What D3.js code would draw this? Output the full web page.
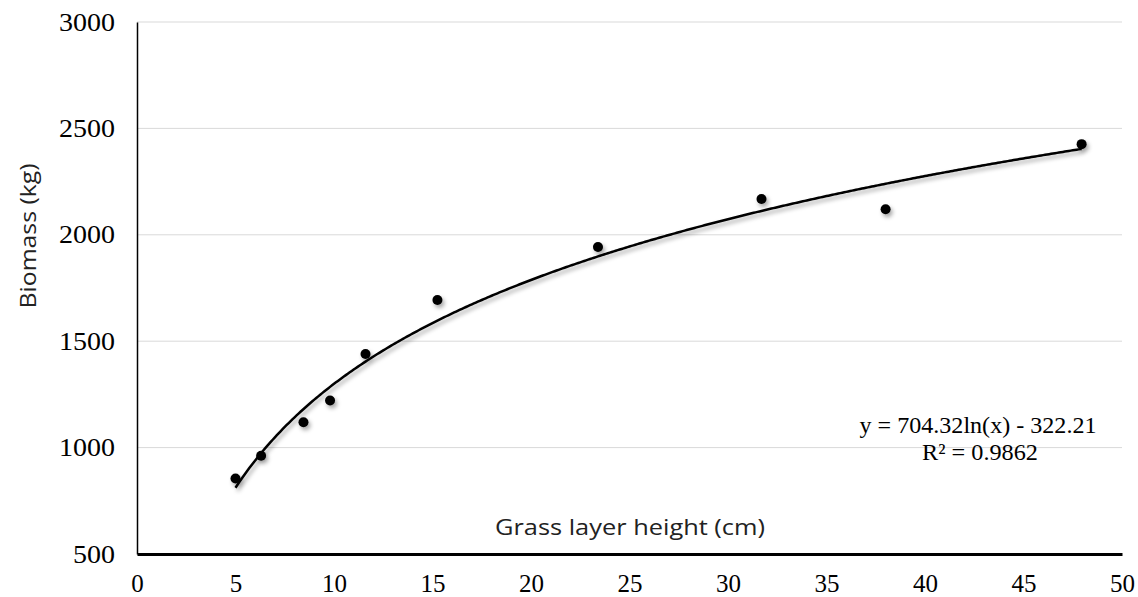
<!DOCTYPE html>
<html>
<head>
<meta charset="utf-8">
<script src="https://cdn.jsdelivr.net/npm/d3@7"></script>
<style>
  body { margin: 0; background: #fff; }
  svg { display: block; }
</style>
</head>
<body>
<svg id="chart" width="1138" height="597"></svg>
<script>
const heights = [5.0, 6.3, 8.45, 9.8, 11.6, 15.25, 23.4, 31.7, 38.0, 47.95];
const biomass = [855, 962, 1119, 1221, 1440, 1694, 1943, 2168, 2120, 2426];
const xTicks = [0, 5, 10, 15, 20, 25, 30, 35, 40, 45, 50];
const yTicks = [500, 1000, 1500, 2000, 2500, 3000];
const trendA = 704.32, trendB = -322.21;
const equationText = "y = 704.32ln(x) - 322.21";
const r2Text = "R² = 0.9862";
const xTitle = "Grass layer height (cm)";
const yTitle = "Biomass (kg)";

const svg = d3.select("#chart");
const mLeft = 137, mRight = 1122, mTop = 22, mBottom = 554;
const x = d3.scaleLinear().domain([0, 50]).range([mLeft, mRight]);
const y = d3.scaleLinear().domain([500, 3000]).range([mBottom, mTop]);
const serif = "Liberation Serif, Times New Roman, serif";

const defs = svg.append("defs");
const f = defs.append("filter").attr("id", "shadow").attr("x", "-100%").attr("y", "-100%").attr("width", "300%").attr("height", "300%");
f.append("feDropShadow").attr("dx", 2).attr("dy", 3).attr("stdDeviation", 2).attr("flood-color", "#000").attr("flood-opacity", 0.35);

// gridlines
svg.append("g").selectAll("line").data(yTicks.filter(d => d > 500)).join("line")
  .attr("x1", mLeft).attr("x2", mRight)
  .attr("y1", d => y(d)).attr("y2", d => y(d))
  .attr("stroke", "#d9d9d9").attr("stroke-width", 1);

// y axis
const yAxis = svg.append("g").attr("transform", `translate(${mLeft},0)`)
  .call(d3.axisLeft(y).tickValues(yTicks).tickSize(0).tickPadding(22).tickFormat(d3.format("d")));
yAxis.select(".domain").attr("stroke", "#000").attr("stroke-width", 1.5);
yAxis.selectAll("text").attr("font-family", serif)
  .attr("font-size", 25).attr("fill", "#000").attr("dy", "0.32em")
  .attr("textLength", d => String(d).length * 14).attr("lengthAdjust", "spacingAndGlyphs");

// x axis
const xAxis = svg.append("g").attr("transform", `translate(0,${mBottom})`)
  .call(d3.axisBottom(x).tickValues(xTicks).tickSize(0).tickPadding(20).tickFormat(d3.format("d")));
xAxis.select(".domain").attr("stroke", "#000").attr("stroke-width", 3);
xAxis.selectAll("text").attr("font-family", serif)
  .attr("font-size", 25).attr("fill", "#000");

// trendline
const xs = d3.range(d3.min(heights), d3.max(heights), 0.1);
xs.push(d3.max(heights));
const line = d3.line().x(d => x(d)).y(d => y(trendA * Math.log(d) + trendB));
svg.append("path").datum(xs).attr("d", line)
  .attr("fill", "none").attr("stroke", "#000").attr("stroke-width", 2.5)
  .attr("filter", "url(#shadow)");

// points
svg.append("g").selectAll("circle").data(heights.map((h, i) => [h, biomass[i]])).join("circle")
  .attr("cx", d => x(d[0])).attr("cy", d => y(d[1])).attr("r", 5)
  .attr("fill", "#000").attr("filter", "url(#shadow)");

// equation
svg.append("text").attr("x", 978).attr("y", 433).attr("text-anchor", "middle")
  .attr("font-family", serif).attr("font-size", 23)
  .attr("textLength", 237).attr("lengthAdjust", "spacingAndGlyphs")
  .text(equationText);
svg.append("text").attr("x", 980).attr("y", 460).attr("text-anchor", "middle")
  .attr("font-family", serif).attr("font-size", 23)
  .attr("textLength", 116).attr("lengthAdjust", "spacingAndGlyphs")
  .text(r2Text);

// axis titles
svg.append("text").attr("x", 630).attr("y", 535).attr("text-anchor", "middle")
  .attr("font-family", "Open Sans, sans-serif").attr("font-size", 22).attr("fill", "#222")
  .attr("textLength", 270).attr("lengthAdjust", "spacingAndGlyphs")
  .text(xTitle);
svg.append("text").attr("transform", "translate(36,236) rotate(-90)").attr("text-anchor", "middle")
  .attr("font-family", "Open Sans, sans-serif").attr("font-size", 22).attr("fill", "#222")
  .attr("textLength", 145).attr("lengthAdjust", "spacingAndGlyphs")
  .text(yTitle);
</script>
</body>
</html>
